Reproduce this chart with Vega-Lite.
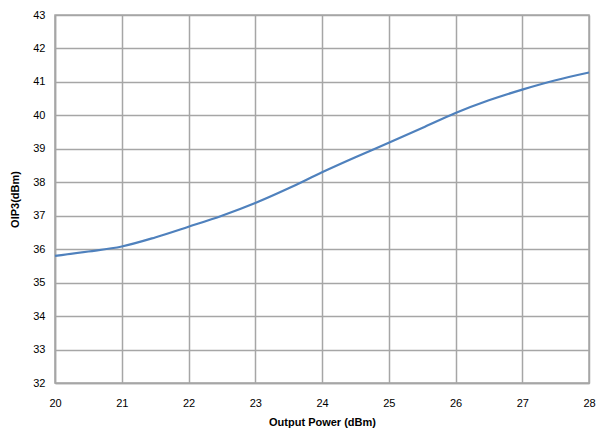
{
  "$schema": "https://vega.github.io/schema/vega-lite/v6.json",
  "autosize": "none",
  "width": 534,
  "height": 368,
  "padding": {"left": 55, "top": 15, "right": 8, "bottom": 48},
  "background": "white",
  "data": {"values": [
    {"p": 20, "o": 35.8},
    {"p": 20.5, "o": 35.93},
    {"p": 21, "o": 36.08},
    {"p": 21.5, "o": 36.35},
    {"p": 22, "o": 36.67},
    {"p": 22.5, "o": 37.0},
    {"p": 23, "o": 37.38},
    {"p": 23.5, "o": 37.82},
    {"p": 24, "o": 38.3},
    {"p": 24.5, "o": 38.75},
    {"p": 25, "o": 39.18},
    {"p": 25.5, "o": 39.62},
    {"p": 26, "o": 40.07},
    {"p": 26.5, "o": 40.45},
    {"p": 27, "o": 40.77},
    {"p": 27.5, "o": 41.05},
    {"p": 28, "o": 41.28}
  ]},
  "mark": {"type": "line", "color": "#4f81bd", "strokeWidth": 2.2, "interpolate": "monotone"},
  "encoding": {
    "x": {"field": "p", "type": "quantitative", "title": "Output Power (dBm)",
      "scale": {"domain": [20, 28], "nice": false, "zero": false},
      "axis": {"values": [20,21,22,23,24,25,26,27,28], "format": "d", "labelPadding": 14, "titlePadding": 8, "labelFlush": false, "labelOverlap": false}},
    "y": {"field": "o", "type": "quantitative", "title": "OIP3(dBm)",
      "scale": {"domain": [32, 43], "nice": false, "zero": false},
      "axis": {"values": [32,33,34,35,36,37,38,39,40,41,42,43], "format": "d", "labelPadding": 10, "titlePadding": 12, "labelFlush": false}}
  },
  "config": {
    "view": {"stroke": "#a6a6a6", "strokeWidth": 1.5},
    "axis": {
      "labelFont": "Liberation Sans", "labelFontSize": 11, "labelColor": "#000000",
      "titleFont": "Liberation Sans", "titleFontSize": 11, "titleFontWeight": "bold", "titleColor": "#000000",
      "gridColor": "#a6a6a6", "gridWidth": 1.5, "gridOpacity": 1,
      "domainColor": "#a6a6a6", "domainWidth": 1.5,
      "ticks": false
    }
  }
}
